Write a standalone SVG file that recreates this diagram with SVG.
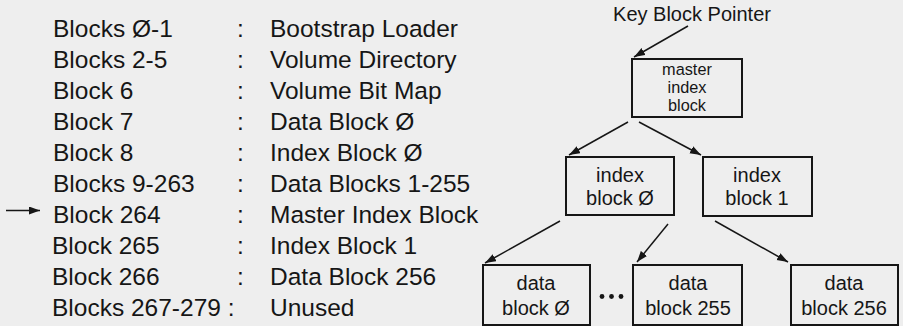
<svg xmlns="http://www.w3.org/2000/svg" width="903" height="326" viewBox="0 0 903 326">
<style>
text{font-family:"Liberation Sans",Arial,sans-serif;fill:#161616}
.t{font-size:24.5px}
.b{font-size:20px;text-anchor:middle}
.m{font-size:16.3px;text-anchor:middle}
.k{font-size:20px;text-anchor:middle}
.box{fill:none;stroke:#161616;stroke-width:2}
.c{fill:none;stroke:#161616;stroke-width:1.5;marker-end:url(#ah)}
</style>
<defs>
<marker id="ah" markerUnits="userSpaceOnUse" markerWidth="12" markerHeight="9" refX="11" refY="4" orient="auto">
<path d="M0,0 L11,4 L0,8 Z" fill="#161616"/>
</marker>
</defs>
<rect width="903" height="326" fill="#eeeeee"/>
<g id="table">
<text class="t" x="53" y="37">Blocks Ø-1</text><text class="t" x="237" y="37">:</text><text class="t" x="270" y="37">Bootstrap Loader</text>
<text class="t" x="53" y="68">Blocks 2-5</text><text class="t" x="237" y="68">:</text><text class="t" x="270" y="68">Volume Directory</text>
<text class="t" x="53" y="99">Block 6</text><text class="t" x="237" y="99">:</text><text class="t" x="270" y="99">Volume Bit Map</text>
<text class="t" x="53" y="130">Block 7</text><text class="t" x="237" y="130">:</text><text class="t" x="270" y="130">Data Block Ø</text>
<text class="t" x="53" y="161">Block 8</text><text class="t" x="237" y="161">:</text><text class="t" x="270" y="161">Index Block Ø</text>
<text class="t" x="53" y="192">Blocks 9-263</text><text class="t" x="237" y="192">:</text><text class="t" x="270" y="192">Data Blocks 1-255</text>
<text class="t" x="53" y="223">Block 264</text><text class="t" x="237" y="223">:</text><text class="t" x="270" y="223">Master Index Block</text>
<text class="t" x="52" y="254">Block 265</text><text class="t" x="237" y="254">:</text><text class="t" x="270" y="254">Index Block 1</text>
<text class="t" x="52" y="285">Block 266</text><text class="t" x="237" y="285">:</text><text class="t" x="270" y="285">Data Block 256</text>
<text class="t" x="52" y="316">Blocks 267-279 :</text><text class="t" x="270" y="316">Unused</text>
</g>
<g id="key-label"><text class="k" x="692" y="20.5">Key Block Pointer</text></g>
<g id="master">
<rect class="box" x="632" y="59" width="110" height="58"/>
<text class="m" x="687" y="74.6">master</text>
<text class="m" x="687" y="92.9">index</text>
<text class="m" x="687" y="111.2">block</text>
</g>
<g id="index0">
<rect class="box" x="566" y="157" width="108" height="58"/>
<text class="b" x="620" y="182">index</text>
<text class="b" x="620" y="205">block Ø</text>
</g>
<g id="index1">
<rect class="box" x="703" y="157" width="109" height="59"/>
<text class="b" x="757" y="182">index</text>
<text class="b" x="757" y="205">block 1</text>
</g>
<g id="data0">
<rect class="box" x="483" y="265" width="107" height="60"/>
<text class="b" x="536" y="290">data</text>
<text class="b" x="536" y="315">block Ø</text>
</g>
<g id="data255">
<rect class="box" x="633" y="265" width="109" height="60"/>
<text class="b" x="688" y="290">data</text>
<text class="b" x="688" y="315">block 255</text>
</g>
<g id="data256">
<rect class="box" x="791" y="265" width="107" height="60"/>
<text class="b" x="844" y="290">data</text>
<text class="b" x="844" y="315">block 256</text>
</g>
<g id="ellipsis" fill="#161616">
<circle cx="602" cy="296.5" r="2.4"/><circle cx="611.5" cy="296.5" r="2.4"/><circle cx="621" cy="296.5" r="2.4"/>
</g>
<g id="connectors">
<line class="c" x1="6" y1="210.5" x2="40" y2="210.5"/>
<line class="c" x1="688" y1="26" x2="634" y2="57"/>
<line class="c" x1="628" y1="122" x2="569" y2="155"/>
<line class="c" x1="639" y1="122" x2="701" y2="155"/>
<line class="c" x1="560" y1="221" x2="485" y2="263"/>
<line class="c" x1="668" y1="224" x2="637" y2="262"/>
<line class="c" x1="715" y1="221" x2="788" y2="262"/>
</g>
</svg>
